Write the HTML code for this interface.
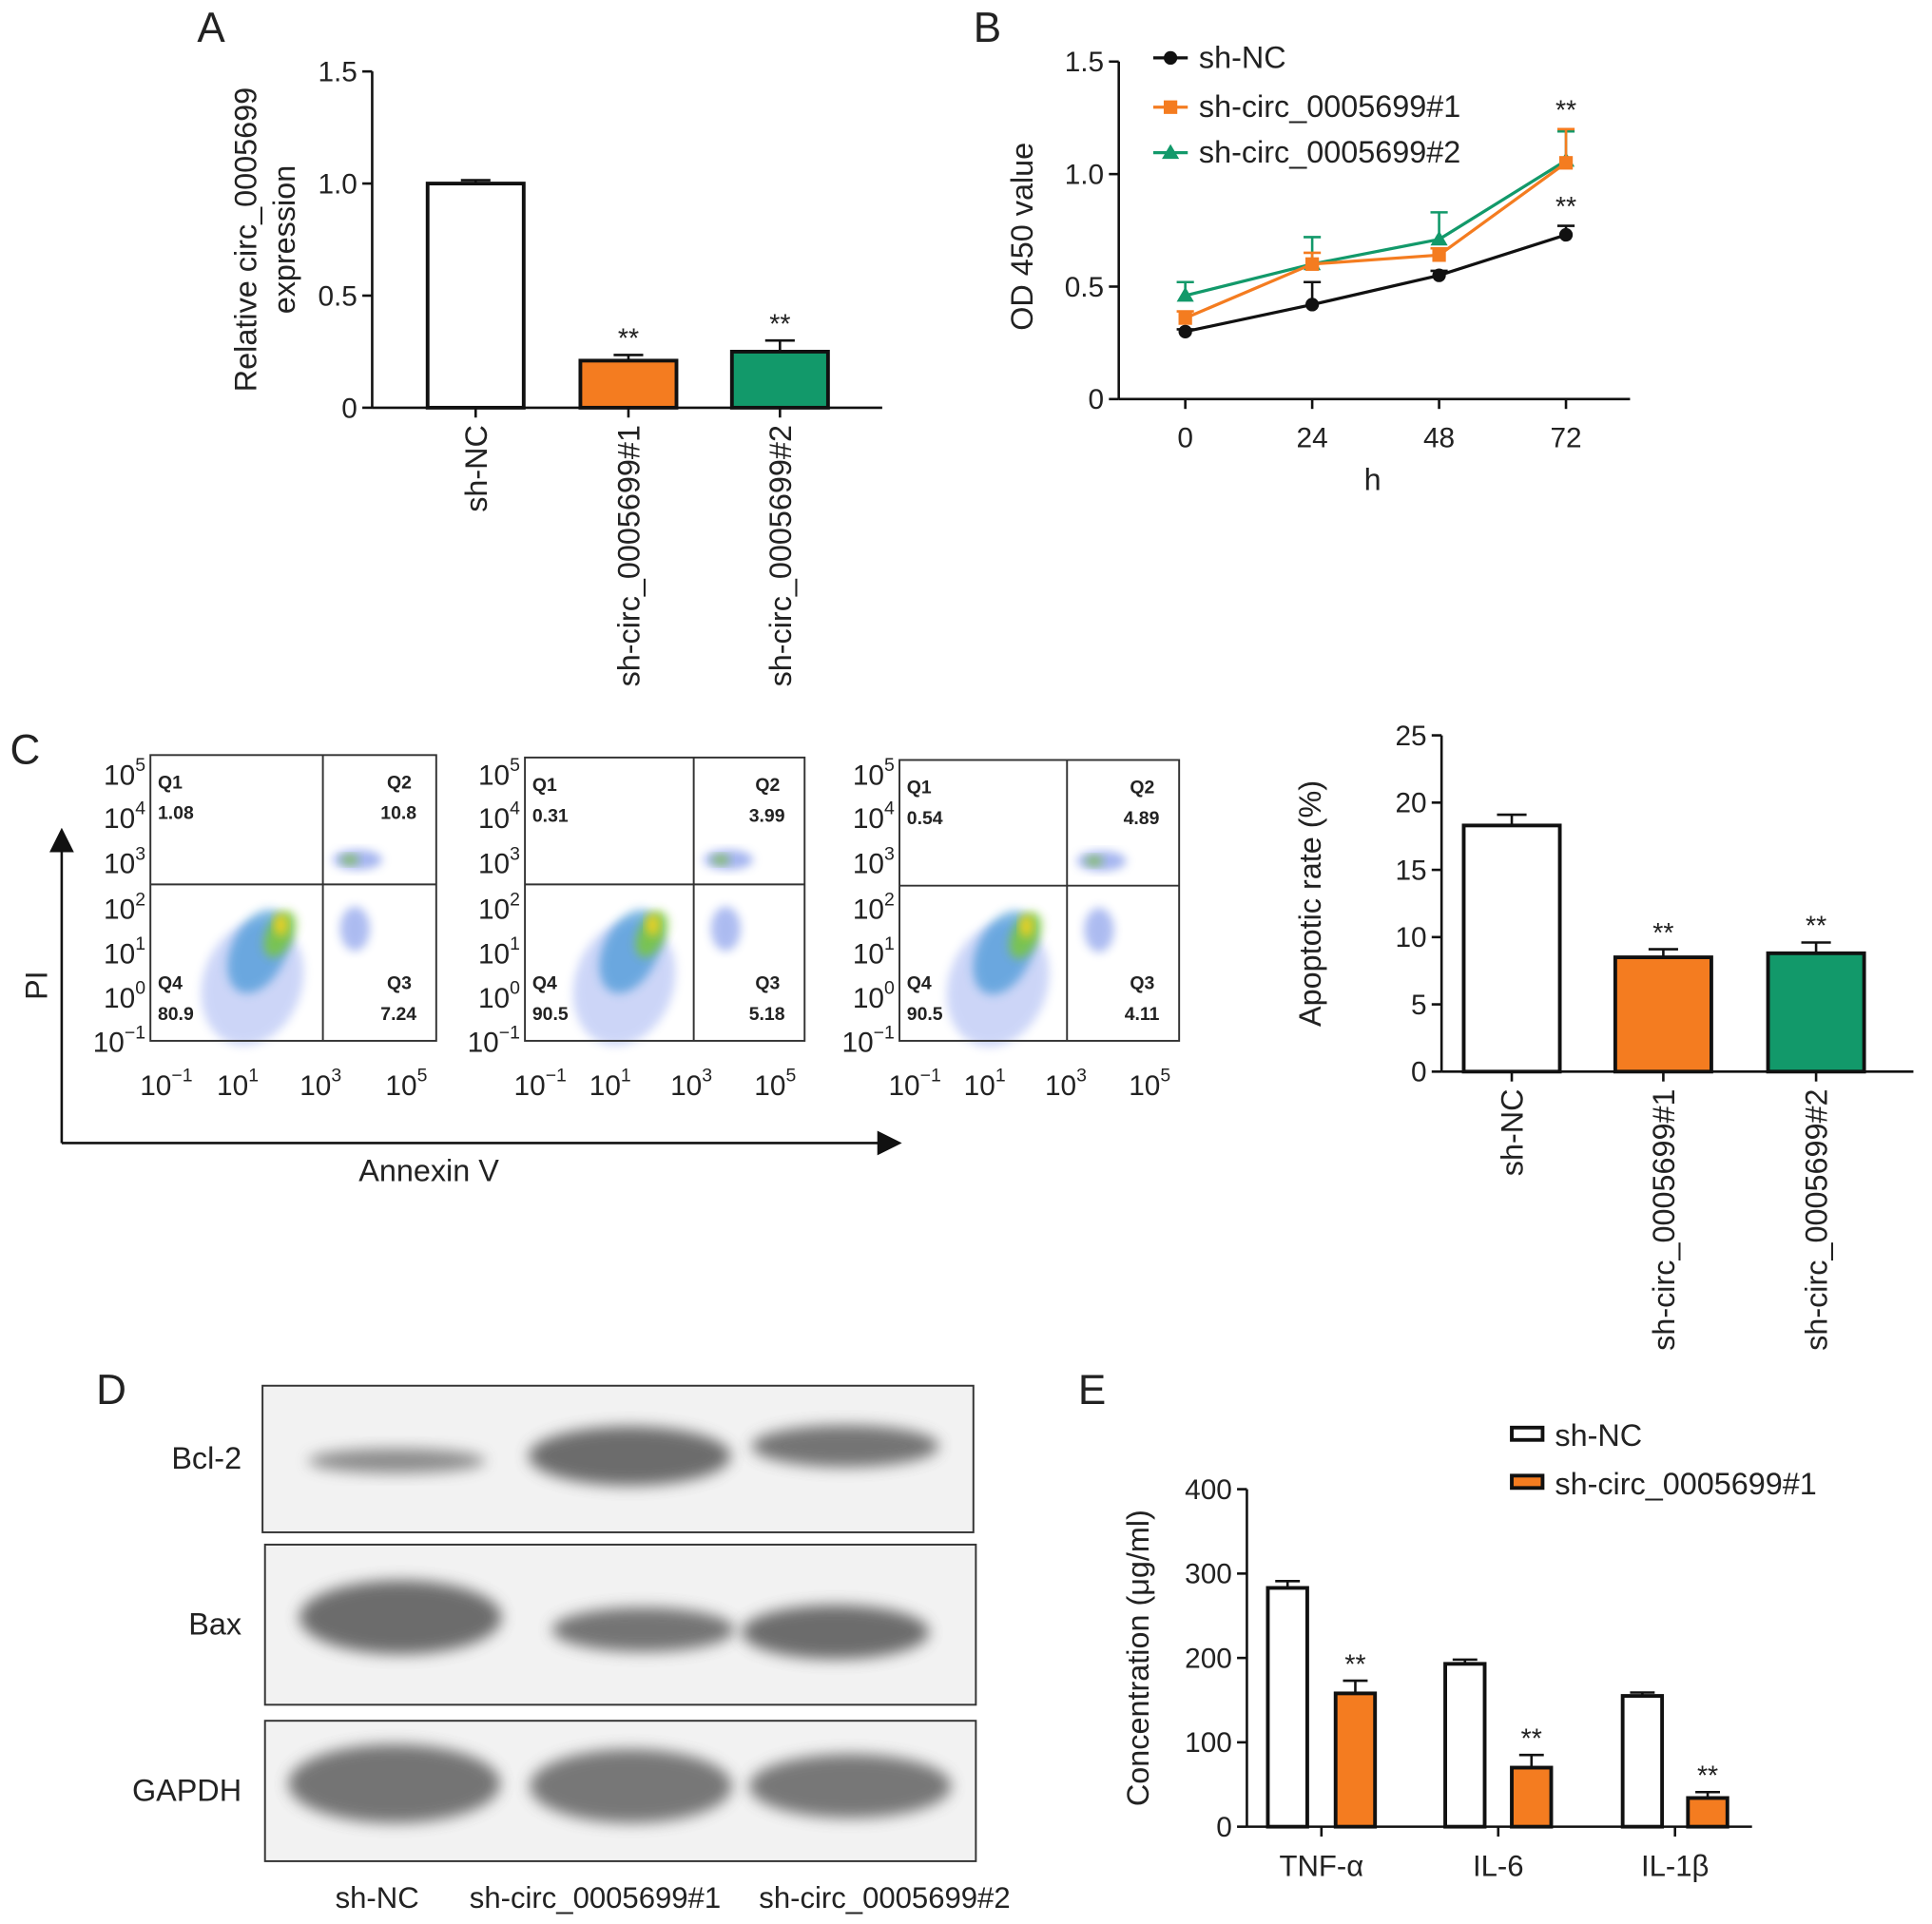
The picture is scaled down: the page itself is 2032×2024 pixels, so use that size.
<!DOCTYPE html>
<html><head><meta charset="utf-8"><style>
html,body{margin:0;padding:0;background:#fff}
svg{display:block}
text{font-family:"Liberation Sans",sans-serif;fill:#222}
</style></head><body>
<svg id="fig" width="2032" height="2024" viewBox="0 0 1568 1562" xmlns="http://www.w3.org/2000/svg">
<defs>
<filter id="blur" x="-20%" y="-50%" width="140%" height="200%"><feGaussianBlur stdDeviation="6"/></filter>
<filter id="blur2" x="-30%" y="-30%" width="160%" height="160%"><feGaussianBlur stdDeviation="4"/></filter>
<marker id="arr" markerWidth="10" markerHeight="10" refX="8" refY="5" orient="auto"><path d="M0,0 L10,5 L0,10 z" fill="#111"/></marker>
</defs>
<g id="root"></g>
</svg>
<script>
const NS="http://www.w3.org/2000/svg";
const root=document.getElementById('root');
function el(tag,attrs,parent,txt){const e=document.createElementNS(NS,tag);for(const k in attrs)e.setAttribute(k,attrs[k]);if(txt!==undefined)e.textContent=txt;(parent||root).appendChild(e);return e;}
const ORANGE="#f47c20",GREEN="#12996a";

// ---------- Panel A data ----------
const aCats=["sh-NC","sh-circ_0005699#1","sh-circ_0005699#2"];
const aVals=[1.0,0.21,0.25];
const aErr=[0.015,0.025,0.05];
const aTicks=[0,0.5,1.0,1.5];
const aTickLabels=["0","0.5","1.0","1.5"];
// ---------- Panel B data ----------
const bX=[0,24,48,72];
const bNC=[0.30,0.42,0.55,0.73];
const bNCerr=[0.01,0.10,0.02,0.04];
const bS1=[0.36,0.60,0.64,1.05];
const bS1err=[0.03,0.05,0.03,0.15];
const bS2=[0.46,0.60,0.71,1.06];
const bS2err=[0.06,0.12,0.12,0.13];
const bTicks=[0,0.5,1.0,1.5];
const bTickLabels=["0","0.5","1.0","1.5"];
// ---------- Panel C data ----------
const cFlowQ=[["1.08","10.8","80.9","7.24"],["0.31","3.99","90.5","5.18"],["0.54","4.89","90.5","4.11"]];
const cVals=[18.3,8.5,8.8];
const cErr=[0.8,0.6,0.8];
const cTicks=[0,5,10,15,20,25];
// ---------- Panel E data ----------
const eCats=["TNF-α","IL-6","IL-1β"];
const eNC=[283,193,155];
const eNCerr=[8,5,4];
const eSh=[158,70,34];
const eSherr=[15,15,7];
const eTicks=[0,100,200,300,400];

const TF=23, LF=25;
function letter(t,x,y){const e=el('text',{x,y,'font-size':34},root,t);}
letter('A',160,34);letter('B',790,34);letter('C',8,620);letter('D',78,1140);letter('E',875,1140);

function ax(x0,y0,x1,y1,parent){el('line',{x1:x0,y1:y0,x2:x1,y2:y1,stroke:'#111','stroke-width':2},parent);}

function barPanel(name,ox,oyTop,oyBot,xEnd,vmax,ticks,labels,centers,vals,errs,fills,titleX,titleLines){
  const g=el('g',{});
  const ys=v=>oyBot-(v/vmax)*(oyBot-oyTop);
  ax(ox,oyTop,ox,oyBot,g);ax(ox,oyBot,xEnd,oyBot,g);
  ticks.forEach((t,i)=>{ax(ox-8,ys(t),ox,ys(t),g);const tl=el('text',{x:ox-12,y:ys(t)+8,'font-size':TF,'text-anchor':'end'},g,labels[i]);});
  vals.forEach((v,i)=>{const c=centers[i];
    ax(c,ys(v),c,ys(v+errs[i]),g);ax(c-12,ys(v+errs[i]),c+12,ys(v+errs[i]),g);
    const r=el('rect',{x:c-39,y:ys(v),width:78,height:oyBot-ys(v),fill:fills[i],stroke:'#111','stroke-width':3},g);
    
    ax(c,oyBot,c,oyBot+8,g);
    const lt=el('text',{'font-size':LF,'text-anchor':'end',transform:`translate(${c+9},${oyBot+14}) rotate(-90)`},g,aCats[i]);
    
    if(i>0){const s=el('text',{x:c,y:ys(v+errs[i])-6,'font-size':22,'text-anchor':'middle'},g,'**');}
  });
  titleLines.forEach((t,k)=>{const tt=el('text',{'font-size':LF,'text-anchor':'middle',transform:`translate(${titleX+k*31},${(oyTop+oyBot)/2}) rotate(-90)`},g,t);});
}
barPanel('panel-a-bar-chart',302,58,331,716,1.5,aTicks,aTickLabels,[386,510,633],aVals,aErr,['#fff',ORANGE,GREEN],208,['Relative circ_0005699','expression']);
barPanel('panel-c-bar-chart',1170,597,870,1553,25,cTicks,cTicks.map(String),[1227,1350,1474],cVals,cErr,['#fff',ORANGE,GREEN],1072,['Apoptotic rate (%)']);

// ---------- Panel B ----------
(function(){
  const g=el('g',{});
  const ox=908,top=50,bot=324,xEnd=1323;
  const ys=v=>bot-(v/1.5)*(bot-top), xs=h=>962+h*(1271-962)/72;
  ax(ox,top,ox,bot,g);ax(ox,bot,xEnd,bot,g);
  bTicks.forEach((t,i)=>{ax(ox-8,ys(t),ox,ys(t),g);el('text',{x:ox-12,y:ys(t)+8,'font-size':TF,'text-anchor':'end'},g,bTickLabels[i]);});
  bX.forEach(h=>{ax(xs(h),bot,xs(h),bot+8,g);el('text',{x:xs(h),y:bot+39,'font-size':TF,'text-anchor':'middle'},g,String(h));});
  el('text',{x:1114,y:398,'font-size':LF,'text-anchor':'middle'},g,'h');
  el('text',{'font-size':LF,'text-anchor':'middle',transform:`translate(838,192) rotate(-90)`},g,'OD 450 value');
  const series=[[bS2,bS2err,GREEN,'tri','sh-circ_0005699#2'],[bS1,bS1err,ORANGE,'sq','sh-circ_0005699#1'],[bNC,bNCerr,'#111','circ','sh-NC']];
  function marker(x,y,c,m,p){if(m==='circ')el('circle',{cx:x,cy:y,r:5.5,fill:c},p);else if(m==='sq')el('rect',{x:x-5.5,y:y-5.5,width:11,height:11,fill:c},p);else el('path',{d:`M${x},${y-7} L${x+7},${y+5} L${x-7},${y+5}z`,fill:c},p);}
  series.forEach(([v,e,c,m,nm])=>{
    const sg=el('g',{},g);
    el('polyline',{points:bX.map((h,i)=>xs(h)+','+ys(v[i])).join(' '),fill:'none',stroke:c,'stroke-width':2.5},sg);
    bX.forEach((h,i)=>{const x=xs(h);el('line',{x1:x,y1:ys(v[i]),x2:x,y2:ys(v[i]+e[i]),stroke:c,'stroke-width':2},sg);el('line',{x1:x-7,y1:ys(v[i]+e[i]),x2:x+7,y2:ys(v[i]+e[i]),stroke:c,'stroke-width':2},sg);marker(x,ys(v[i]),c,m,sg);});
  });
  el('text',{x:1271,y:ys(bS1[3]+bS1err[3])-8,'font-size':22,'text-anchor':'middle'},g,'**');
  el('text',{x:1271,y:ys(bNC[3]+bNCerr[3])-8,'font-size':22,'text-anchor':'middle'},g,'**');
  const leg=[['sh-NC','#111','circ',45],['sh-circ_0005699#1',ORANGE,'sq',85],['sh-circ_0005699#2',GREEN,'tri',122]];
  leg.forEach(([t,c,m,y])=>{const lg=el('g',{},g);
    el('line',{x1:936,y1:y+2,x2:964,y2:y+2,stroke:c,'stroke-width':2.5},lg);marker(950,y+2,c,m,lg);el('text',{x:973,y:y+10,'font-size':LF},lg,t);});
})();

// ---------- Panel C flow plots ----------
(function(){
  const plots=[[122,613,354,262,718],[426,615,653,563,718],[730,617,957,866,719]];
  const ylab=[["5",628],["4",663],["3",700],["2",737],["1",773],["0",809],["−1",845]];
  plots.forEach(([x0,y0,x1,qx,qy],pi)=>{
    const g=el('g',{});
    const y1=845;
    const ccx=x0+(qx-x0)*0.72, ccy=qy+45;
    el('ellipse',{cx:ccx-18,cy:ccy+35,rx:40,ry:52,fill:'#5a78e8',opacity:0.3,filter:'url(#blur2)',transform:`rotate(20 ${ccx-18} ${ccy+35})`},g);
    el('ellipse',{cx:ccx-8,cy:ccy+14,rx:22,ry:36,fill:'#2a8ad0',opacity:0.6,filter:'url(#blur2)',transform:`rotate(25 ${ccx} ${ccy})`},g);
    el('ellipse',{cx:ccx+2,cy:ccy-6,rx:11,ry:20,fill:'#7cc83a',opacity:0.85,filter:'url(#blur2)',transform:`rotate(25 ${ccx} ${ccy})`},g);
    el('ellipse',{cx:ccx+5,cy:ccy-12,rx:5,ry:9,fill:'#f0d020',filter:'url(#blur2)'},g);
    el('ellipse',{cx:qx+26,cy:qy+36,rx:12,ry:18,fill:'#4a6ae0',opacity:0.45,filter:'url(#blur2)'},g);
    el('ellipse',{cx:qx+28,cy:qy-20,rx:20,ry:8,fill:'#4a6ae0',opacity:0.5,filter:'url(#blur2)'},g);
    el('ellipse',{cx:qx+22,cy:qy-20,rx:7,ry:4,fill:'#7ac040',opacity:0.8,filter:'url(#blur2)'},g);
    el('rect',{x:x0,y:y0,width:x1-x0,height:y1-y0,fill:'none',stroke:'#333','stroke-width':1.5},g);
    el('line',{x1:qx,y1:y0,x2:qx,y2:y1,stroke:'#333','stroke-width':1.5},g);
    el('line',{x1:x0,y1:qy,x2:x1,y2:qy,stroke:'#333','stroke-width':1.5},g);
    const q=cFlowQ[pi];
    [['Q1',x0+6,y0+27,'start'],[q[0],x0+6,y0+52,'start'],['Q2',x1-20,y0+27,'end'],[q[1],x1-16,y0+52,'end'],['Q4',x0+6,y1-42,'start'],[q[2],x0+6,y1-17,'start'],['Q3',x1-20,y1-42,'end'],[q[3],x1-16,y1-17,'end']]
      .forEach(([t,x,y,a])=>el('text',{x,y,'font-size':15,'font-weight':'bold','text-anchor':a},g,t));
    ylab.forEach(([e,y])=>{const t=el('text',{x:x0-4,y:y+9,'font-size':TF,'text-anchor':'end'},g,'10');el('tspan',{dy:-11,'font-size':15},t,e);});
    [["−1",0.09],["1",0.34],["3",0.63],["5",0.93]].forEach(([e,f])=>{const t=el('text',{x:x0+f*(x1-x0)-8,y:889,'font-size':TF,'text-anchor':'middle'},g,'10');el('tspan',{dy:-11,'font-size':15},t,e);});
  });
  el('line',{x1:50,y1:928,x2:50,y2:676,stroke:'#111','stroke-width':2,'marker-end':'url(#arr)'});
  el('line',{x1:50,y1:928,x2:728,y2:928,stroke:'#111','stroke-width':2,'marker-end':'url(#arr)'});
  el('text',{'font-size':LF,'text-anchor':'middle',transform:'translate(38,800) rotate(-90)'},root,'PI');
  el('text',{x:348,y:959,'font-size':LF,'text-anchor':'middle'},root,'Annexin V');
})();

// ---------- Panel D blots ----------
(function(){
  const g=el('g',{});
  const boxes=[[213,1125,577,119,'Bcl-2',[[322,1186,72,10,0.65],[511,1182,82,24,0.85],[686,1174,76,17,0.8]]],
               [215,1254,577,130,'Bax',[[325,1313,82,30,0.85],[522,1323,74,18,0.8],[678,1325,76,22,0.85]]],
               [215,1397,577,114,'GAPDH',[[320,1448,86,32,0.8],[512,1450,82,30,0.78],[690,1450,82,26,0.78]]]];
  boxes.forEach(([x,y,w,h,lab,bands])=>{
    const bg=el('g',{},g);
    el('rect',{x,y,width:w,height:h,fill:'#f2f2f2',stroke:'#333','stroke-width':1.5},bg);
    bands.forEach(([cx,cy,rx,ry,o])=>el('ellipse',{cx,cy,rx,ry,fill:'#555',opacity:o,filter:'url(#blur)'},bg));
    el('text',{x:196,y:y+h/2+8,'font-size':LF,'text-anchor':'end'},g,lab);
  });
  [['sh-NC',306],['sh-circ_0005699#1',483],['sh-circ_0005699#2',718]].forEach(([t,x])=>el('text',{x,y:1549,'font-size':24,'text-anchor':'middle'},g,t));
})();

// ---------- Panel E ----------
(function(){
  const g=el('g',{});
  const ox=1012,top=1209,bot=1483,xEnd=1422;
  const ys=v=>bot-(v/400)*(bot-top);
  ax(ox,top,ox,bot,g);ax(ox,bot,xEnd,bot,g);
  eTicks.forEach(t=>{ax(ox-8,ys(t),ox,ys(t),g);el('text',{x:ox-12,y:ys(t)+8,'font-size':TF,'text-anchor':'end'},g,String(t));});
  const cx=[[1045,1100],[1189,1243],[1333,1386]];
  eCats.forEach((c,i)=>{
    [[eNC,eNCerr,'#fff'],[eSh,eSherr,ORANGE]].forEach(([v,e,f],k)=>{
      const x=cx[i][k];
      ax(x,ys(v[i]),x,ys(v[i]+e[i]),g);ax(x-10,ys(v[i]+e[i]),x+10,ys(v[i]+e[i]),g);
      const r=el('rect',{x:x-16,y:ys(v[i]),width:32,height:bot-ys(v[i]),fill:f,stroke:'#111','stroke-width':3},g);
      
      if(k)el('text',{x,y:ys(v[i]+e[i])-6,'font-size':22,'text-anchor':'middle'},g,'**');
    });
    const m=(cx[i][0]+cx[i][1])/2;ax(m,bot,m,bot+8,g);
    el('text',{x:m,y:1523,'font-size':24,'text-anchor':'middle'},g,c);
  });
  el('text',{'font-size':LF,'text-anchor':'middle',transform:'translate(932,1346) rotate(-90)'},g,'Concentration (μg/ml)');
  [['sh-NC','#fff',1165],['sh-circ_0005699#1',ORANGE,1204]].forEach(([t,f,y])=>{const lg=el('g',{},g);
    el('rect',{x:1227,y:y-6,width:25,height:10,fill:f,stroke:'#111','stroke-width':3},lg);el('text',{x:1262,y:y+9,'font-size':LF},lg,t);});
})();
</script>
</body></html>
